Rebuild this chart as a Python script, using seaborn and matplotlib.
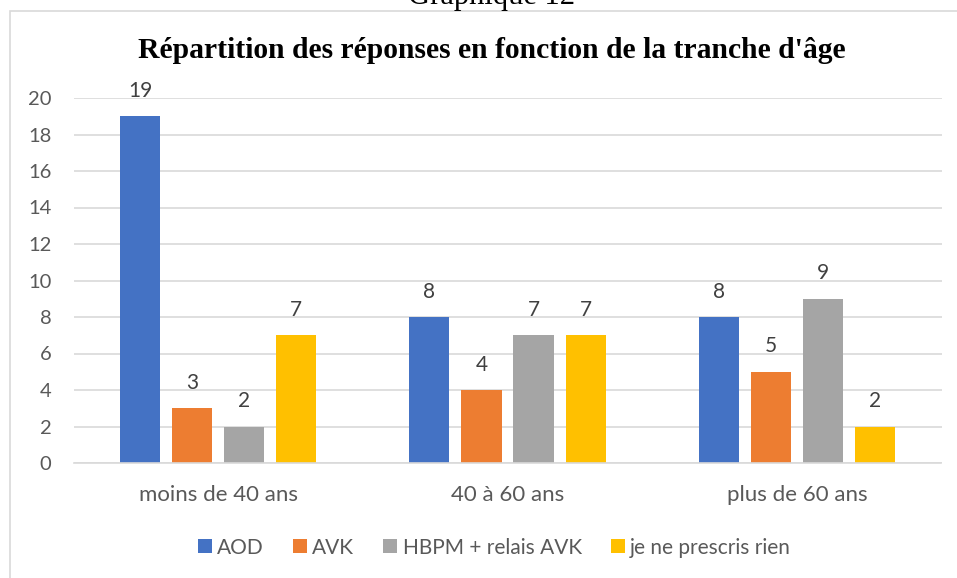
import pandas as pd
import matplotlib.pyplot as plt
import seaborn as sns
from matplotlib.patches import Rectangle

# Data
tranches = ["moins de 40 ans", "40 à 60 ans", "plus de 60 ans"]
reponses = ["AOD", "AVK", "HBPM + relais AVK", "je ne prescris rien"]
aod = [19, 8, 8]
avk = [3, 4, 5]
hbpm = [2, 7, 9]
rien = [7, 7, 2]
couleurs = ["#4472C4", "#ED7D31", "#A5A5A5", "#FFC000"]

rows = []
for rep, vals in zip(reponses, [aod, avk, hbpm, rien]):
    for t, v in zip(tranches, vals):
        rows.append({"tranche": t, "reponse": rep, "n": v})
df = pd.DataFrame(rows)

sns.set_style("white")
plt.rcParams['font.family'] = ['Lato', 'DejaVu Sans']
txt = "#595959"

fig = plt.figure(figsize=(9.57, 5.78), dpi=100)
ax = fig.add_axes([73.5 / 957, 1 - 463 / 578, 868 / 957, 365 / 578])

sns.barplot(data=df, x="tranche", y="n", hue="reponse", order=tranches,
            hue_order=reponses, palette=couleurs, width=0.72, gap=0.23,
            saturation=1, linewidth=0, ax=ax, legend=True)

for c in ax.containers:
    ax.bar_label(c, padding=11, fontsize=15, color="#404040")

ax.set_ylim(0, 20)
ax.set_yticks(range(0, 21, 2))
ax.yaxis.grid(True, color="#D9D9D9", linewidth=1.2)
ax.set_axisbelow(True)
ax.set_xlabel("")
ax.set_ylabel("")
ax.tick_params(axis="both", length=0, colors=txt)
ax.tick_params(axis="x", pad=16, labelsize=16)
ax.tick_params(axis="y", pad=16, labelsize=14.5)
for s in ["top", "right", "left"]:
    ax.spines[s].set_visible(False)
ax.spines["bottom"].set_color("#D9D9D9")
ax.spines["bottom"].set_linewidth(1.2)

ax.legend(loc="center", bbox_to_anchor=(0.485, -0.232), ncol=4, frameon=False,
          fontsize=15, labelcolor=txt, handlelength=0.67, handleheight=0.67,
          handletextpad=0.25, columnspacing=1.4)

# chart border (cropped on right and bottom) and captions
fig.patches.append(Rectangle((10 / 957, -0.1), 1.1, 1.1 - 11 / 578,
                             transform=fig.transFigure, fill=False,
                             edgecolor="#D9D9D9", linewidth=1.2))
fig.text(492 / 957, 1 - 4 / 578, "Graphique 12", ha="center", va="baseline",
         fontsize=22, family="Liberation Serif", color="black")
fig.text(492 / 957, 1 - 58 / 578, "Répartition des réponses en fonction de la tranche d'âge",
         ha="center", va="baseline", fontsize=21.3, fontweight="bold",
         family="Liberation Serif", color="black")

plt.savefig("out.png", dpi=100)
plt.close()
